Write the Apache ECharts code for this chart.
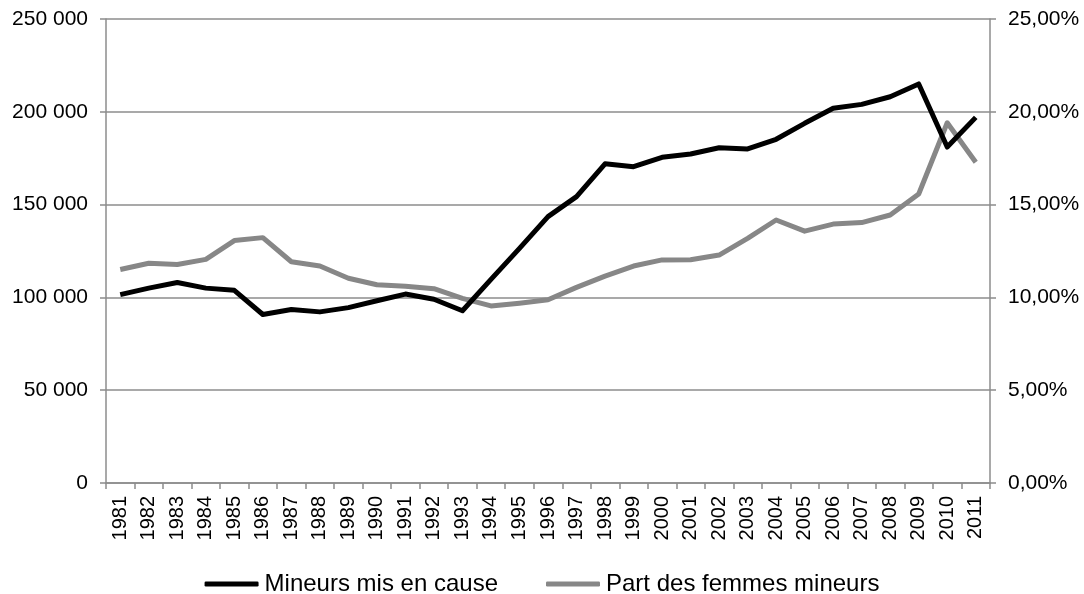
<!DOCTYPE html>
<html>
<head>
<meta charset="utf-8">
<script src="https://cdn.jsdelivr.net/npm/echarts@6/dist/echarts.min.js"></script>
<style>
html,body{margin:0;padding:0;background:#fff;}
#chart{width:1084px;height:594px;}
</style>
</head>
<body>
<div id="chart"></div>
<script>
var years = ['1981','1982','1983','1984','1985','1986','1987','1988','1989','1990','1991','1992','1993','1994','1995','1996','1997','1998','1999','2000','2001','2002','2003','2004','2005','2006','2007','2008','2009','2010','2011'];
var mineurs = [101500,105000,108000,105000,103800,90800,93500,92200,94500,98200,101800,99000,92800,109700,126400,143500,154300,172000,170400,175500,177300,180600,180000,185200,193800,201900,204000,208100,215000,181000,197000];
var partFemmes = [11.50,11.84,11.77,12.05,13.06,13.22,11.92,11.69,11.03,10.68,10.60,10.47,9.95,9.54,9.69,9.87,10.54,11.15,11.69,12.02,12.03,12.28,13.18,14.17,13.57,13.95,14.03,14.44,15.57,19.41,17.28];
var seriesNames = ['Mineurs mis en cause','Part des femmes mineurs'];

var gridColor = '#8c8c8c';
var chart = echarts.init(document.getElementById('chart'), null, {renderer:'canvas'});
function fmtThousands(v){ return String(v).replace(/\B(?=(\d{3})+(?!\d))/g, ' '); }
function fmtPct(v){ return v.toFixed(2).replace('.', ',') + '%'; }

chart.setOption({
  animation:false,
  backgroundColor:'#fff',
  textStyle:{fontFamily:'Liberation Sans, Arial, sans-serif'},
  grid:{left:106, right:94, top:19, bottom:111, containLabel:false},
  legend:{
    data:seriesNames.map(function(n){return {name:n, icon:'roundRect'};}),
    left:'center', top:567,
    itemWidth:54, itemHeight:5, itemGap:48,
    textStyle:{fontSize:24, color:'#000', fontFamily:'Liberation Sans, Arial, sans-serif', padding:[0,0,0,1]}
  },
  xAxis:{
    type:'category', data:years, boundaryGap:true,
    axisLine:{lineStyle:{color:gridColor, width:1.5}},
    axisTick:{show:true, inside:false, length:6, lineStyle:{color:gridColor, width:1.5}},
    axisLabel:{rotate:90, margin:13, fontSize:20, color:'#000', interval:0, fontFamily:'Liberation Sans, Arial, sans-serif'},
    splitLine:{show:false}
  },
  yAxis:[{
    type:'value', min:0, max:250000, interval:50000, position:'left',
    axisLine:{show:true, lineStyle:{color:gridColor, width:1.5}},
    axisTick:{show:true, inside:false, length:6, lineStyle:{color:gridColor, width:1.5}},
    axisLabel:{formatter:fmtThousands, margin:18, fontSize:21, color:'#000', fontFamily:'Liberation Sans, Arial, sans-serif'},
    splitLine:{show:true, lineStyle:{color:gridColor, width:1.5}}
  },{
    type:'value', min:0, max:25, interval:5, position:'right',
    axisLine:{show:true, lineStyle:{color:gridColor, width:1.5}},
    axisTick:{show:true, inside:false, length:6, lineStyle:{color:gridColor, width:1.5}},
    axisLabel:{formatter:fmtPct, margin:18, fontSize:21, color:'#000', fontFamily:'Liberation Sans, Arial, sans-serif'},
    splitLine:{show:false}
  }],
  series:[{
    name:seriesNames[0], type:'line', yAxisIndex:0, data:mineurs,
    showSymbol:false, symbol:'none', color:'#000',
    lineStyle:{color:'#000', width:5, join:'round'}, z:3
  },{
    name:seriesNames[1], type:'line', yAxisIndex:1, data:partFemmes,
    showSymbol:false, symbol:'none', color:'#878787',
    lineStyle:{color:'#878787', width:5, join:'round'}, z:2
  }]
});
</script>
</body>
</html>
